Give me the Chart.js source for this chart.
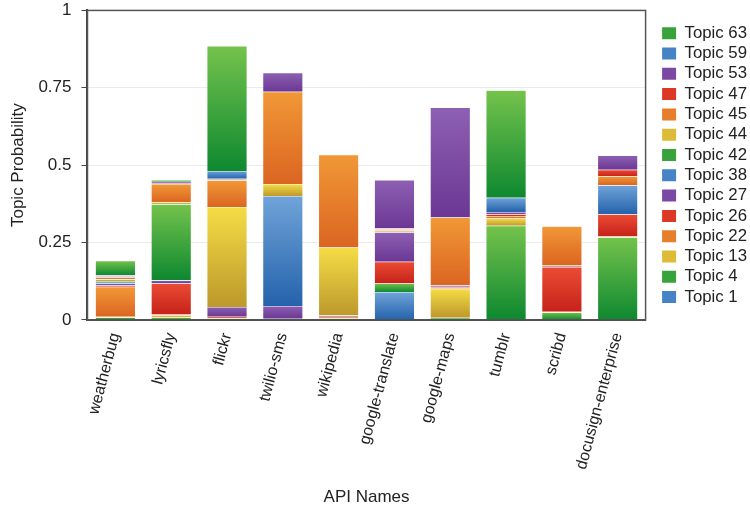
<!DOCTYPE html>
<html>
<head>
<meta charset="utf-8">
<script src="https://cdn.jsdelivr.net/npm/chart.js@4"></script>
<style>
  html, body { margin: 0; background: #fff; }
  #wrap { width: 750px; height: 512px; }
</style>
</head>
<body>
<div id="wrap"><canvas id="graf"></canvas></div>
<script>
// APIs along the x axis
const apis = ['weatherbug', 'lyricsfly', 'flickr', 'twilio-sms', 'wikipedia',
  'google-translate', 'google-maps', 'tumblr', 'scribd', 'docusign-enterprise'];

const topicNames = ['Topic 1', 'Topic 4', 'Topic 13', 'Topic 22', 'Topic 26', 'Topic 27', 'Topic 38',
  'Topic 42', 'Topic 44', 'Topic 45', 'Topic 47', 'Topic 53', 'Topic 59', 'Topic 63'];

const yTicks = [0, 0.25, 0.5, 0.75, 1];

// topic probability per API, same order as apis
const topic1  = [0.002, 0,     0,     0,     0,     0.090, 0,     0,     0,     0];
const topic4  = [0.006, 0.008, 0.004, 0.004, 0.004, 0.028, 0.007, 0.003, 0.024, 0.267];
const topic13 = [0.002, 0.006, 0.002, 0,     0.002, 0,     0.094, 0,     0,     0.002];
const topic22 = [0.097, 0.005, 0,     0,     0.004, 0,     0.003, 0,     0.002, 0.002];
const topic26 = [0.004, 0.099, 0.004, 0,     0,     0.070, 0.003, 0,     0.145, 0.070];
const topic27 = [0.007, 0.009, 0.032, 0.041, 0.004, 0.095, 0.005, 0,     0.003, 0];
const topic38 = [0.005, 0.002, 0,     0.355, 0,     0,     0,     0,     0,     0.094];
const topic42 = [0.003, 0.245, 0,     0,     0,     0.002, 0,     0.301, 0,     0];
const topic44 = [0.005, 0.006, 0.323, 0.039, 0.220, 0.004, 0,     0.024, 0.003, 0.001];
const topic45 = [0.006, 0.059, 0.086, 0.298, 0.300, 0.004, 0.219, 0.008, 0.126, 0.028];
const topic47 = [0.003, 0.002, 0.003, 0,     0,     0.002, 0,     0.005, 0,     0.021];
const topic53 = [0.004, 0.005, 0.002, 0.062, 0,     0.157, 0.355, 0.008, 0,     0.046];
const topic59 = [0,     0,     0.025, 0,     0,     0,     0,     0.046, 0,     0];
const topic63 = [0.047, 0.006, 0.404, 0,     0,     0,     0,     0.347, 0,     0];

const series = [topic1, topic4, topic13, topic22, topic26, topic27, topic38,
  topic42, topic44, topic45, topic47, topic53, topic59, topic63];

// colour cycle: blue, green, yellow, orange, red, purple
const palette = [
  { light: '#70a4d9', mid: '#4683c6', dark: '#2462ab' },
  { light: '#74c34c', mid: '#38a23b', dark: '#0e8830' },
  { light: '#f5dd46', mid: '#dcbc36', dark: '#bd982b' },
  { light: '#f19836', mid: '#e77e2c', dark: '#db6522' },
  { light: '#eb4c34', mid: '#dc3826', dark: '#c6221a' },
  { light: '#8d60b3', mid: '#7b49a3', dark: '#6b3793' }
];

// vertical gradient per stacked segment, lighter on top
function segmentFill(i) {
  const c = palette[i % palette.length];
  return ctx => {
    const y = ctx.chart.scales.y;
    if (ctx.type !== 'data' || !y) return c.mid;
    const j = ctx.dataIndex;
    let start = 0;
    for (let k = 0; k < i; k++) start += series[k][j];
    const top = y.getPixelForValue(start + series[i][j]);
    const bottom = y.getPixelForValue(start);
    if (!isFinite(top) || !isFinite(bottom) || bottom - top < 1) return c.mid;
    const g = ctx.chart.ctx.createLinearGradient(0, top, 0, bottom);
    g.addColorStop(0, c.light);
    g.addColorStop(1, c.dark);
    return g;
  };
}

const datasets = series.map((values, i) => ({
  label: topicNames[i],
  data: values,
  backgroundColor: segmentFill(i),
  borderColor: 'rgba(255,255,255,0.7)',
  borderWidth: 0.5,
  barPercentage: 0.72,
  categoryPercentage: 1
}));

// dark frame round the plot area
const frame = {
  id: 'frame',
  afterDatasetsDraw(chart) {
    const { ctx, chartArea: a } = chart;
    ctx.save();
    ctx.strokeStyle = '#555';
    ctx.lineWidth = 1.5;
    ctx.strokeRect(a.left, a.top, a.right - a.left, a.bottom - a.top);
    ctx.restore();
  }
};

const font = 'Liberation Sans, Arial, Helvetica, sans-serif';

new Chart(document.querySelector('#graf'), {
  type: 'bar',
  data: { labels: apis, datasets },
  plugins: [frame],
  options: {
    responsive: true,
    maintainAspectRatio: false,
    animation: false,
    layout: { padding: { left: 2, right: -7, top: 0, bottom: 4 } },
    plugins: {
      tooltip: { enabled: false },
      legend: {
        position: 'right',
        fullSize: false,
        align: 'center',
        reverse: true,
        labels: {
          boxWidth: 14,
          boxHeight: 12,
          padding: 3.5,
          color: '#222',
          font: { family: font, size: 16.8 },
          generateLabels(chart) {
            return Chart.defaults.plugins.legend.labels.generateLabels(chart).map(item => {
              const c = palette[item.datasetIndex % palette.length];
              item.fillStyle = c.mid;
              item.strokeStyle = c.mid;
              item.lineWidth = 0;
              return item;
            });
          }
        }
      }
    },
    scales: {
      x: {
        stacked: true,
        grid: { display: false },
        border: { color: '#444', width: 2 },
        ticks: {
          minRotation: 75,
          maxRotation: 75,
          color: '#222',
          font: { family: font, size: 16 }
        },
        title: {
          display: true,
          text: 'API Names',
          color: '#222',
          font: { family: font, size: 17 },
          padding: { top: 13, bottom: 0 }
        }
      },
      y: {
        stacked: true,
        min: 0,
        max: 1,
        border: { color: '#444', width: 2 },
        grid: {
          color: ctx => (ctx.tick.value > 0 && ctx.tick.value < 1) ? '#ebebeb' : 'rgba(0,0,0,0)',
          tickColor: '#444',
          tickLength: 6
        },
        afterBuildTicks: scale => { scale.ticks = yTicks.map(value => ({ value })); },
        ticks: {
          color: '#222',
          padding: 10,
          // short line height keeps the top label from pushing the plot down
          font: { family: font, size: 17, lineHeight: 0.05 },
          callback: value => String(value)
        },
        title: {
          display: true,
          text: 'Topic Probability',
          color: '#222',
          font: { family: font, size: 17 },
          padding: { top: 6, bottom: 0 }
        }
      },
      // empty strip keeping the legend clear of the plot frame
      gap: {
        type: 'linear',
        position: 'right',
        grid: { display: false, drawTicks: false },
        border: { display: false },
        ticks: { display: false },
        afterFit: scale => { scale.width = 13; }
      }
    }
  }
});
</script>
</body>
</html>
